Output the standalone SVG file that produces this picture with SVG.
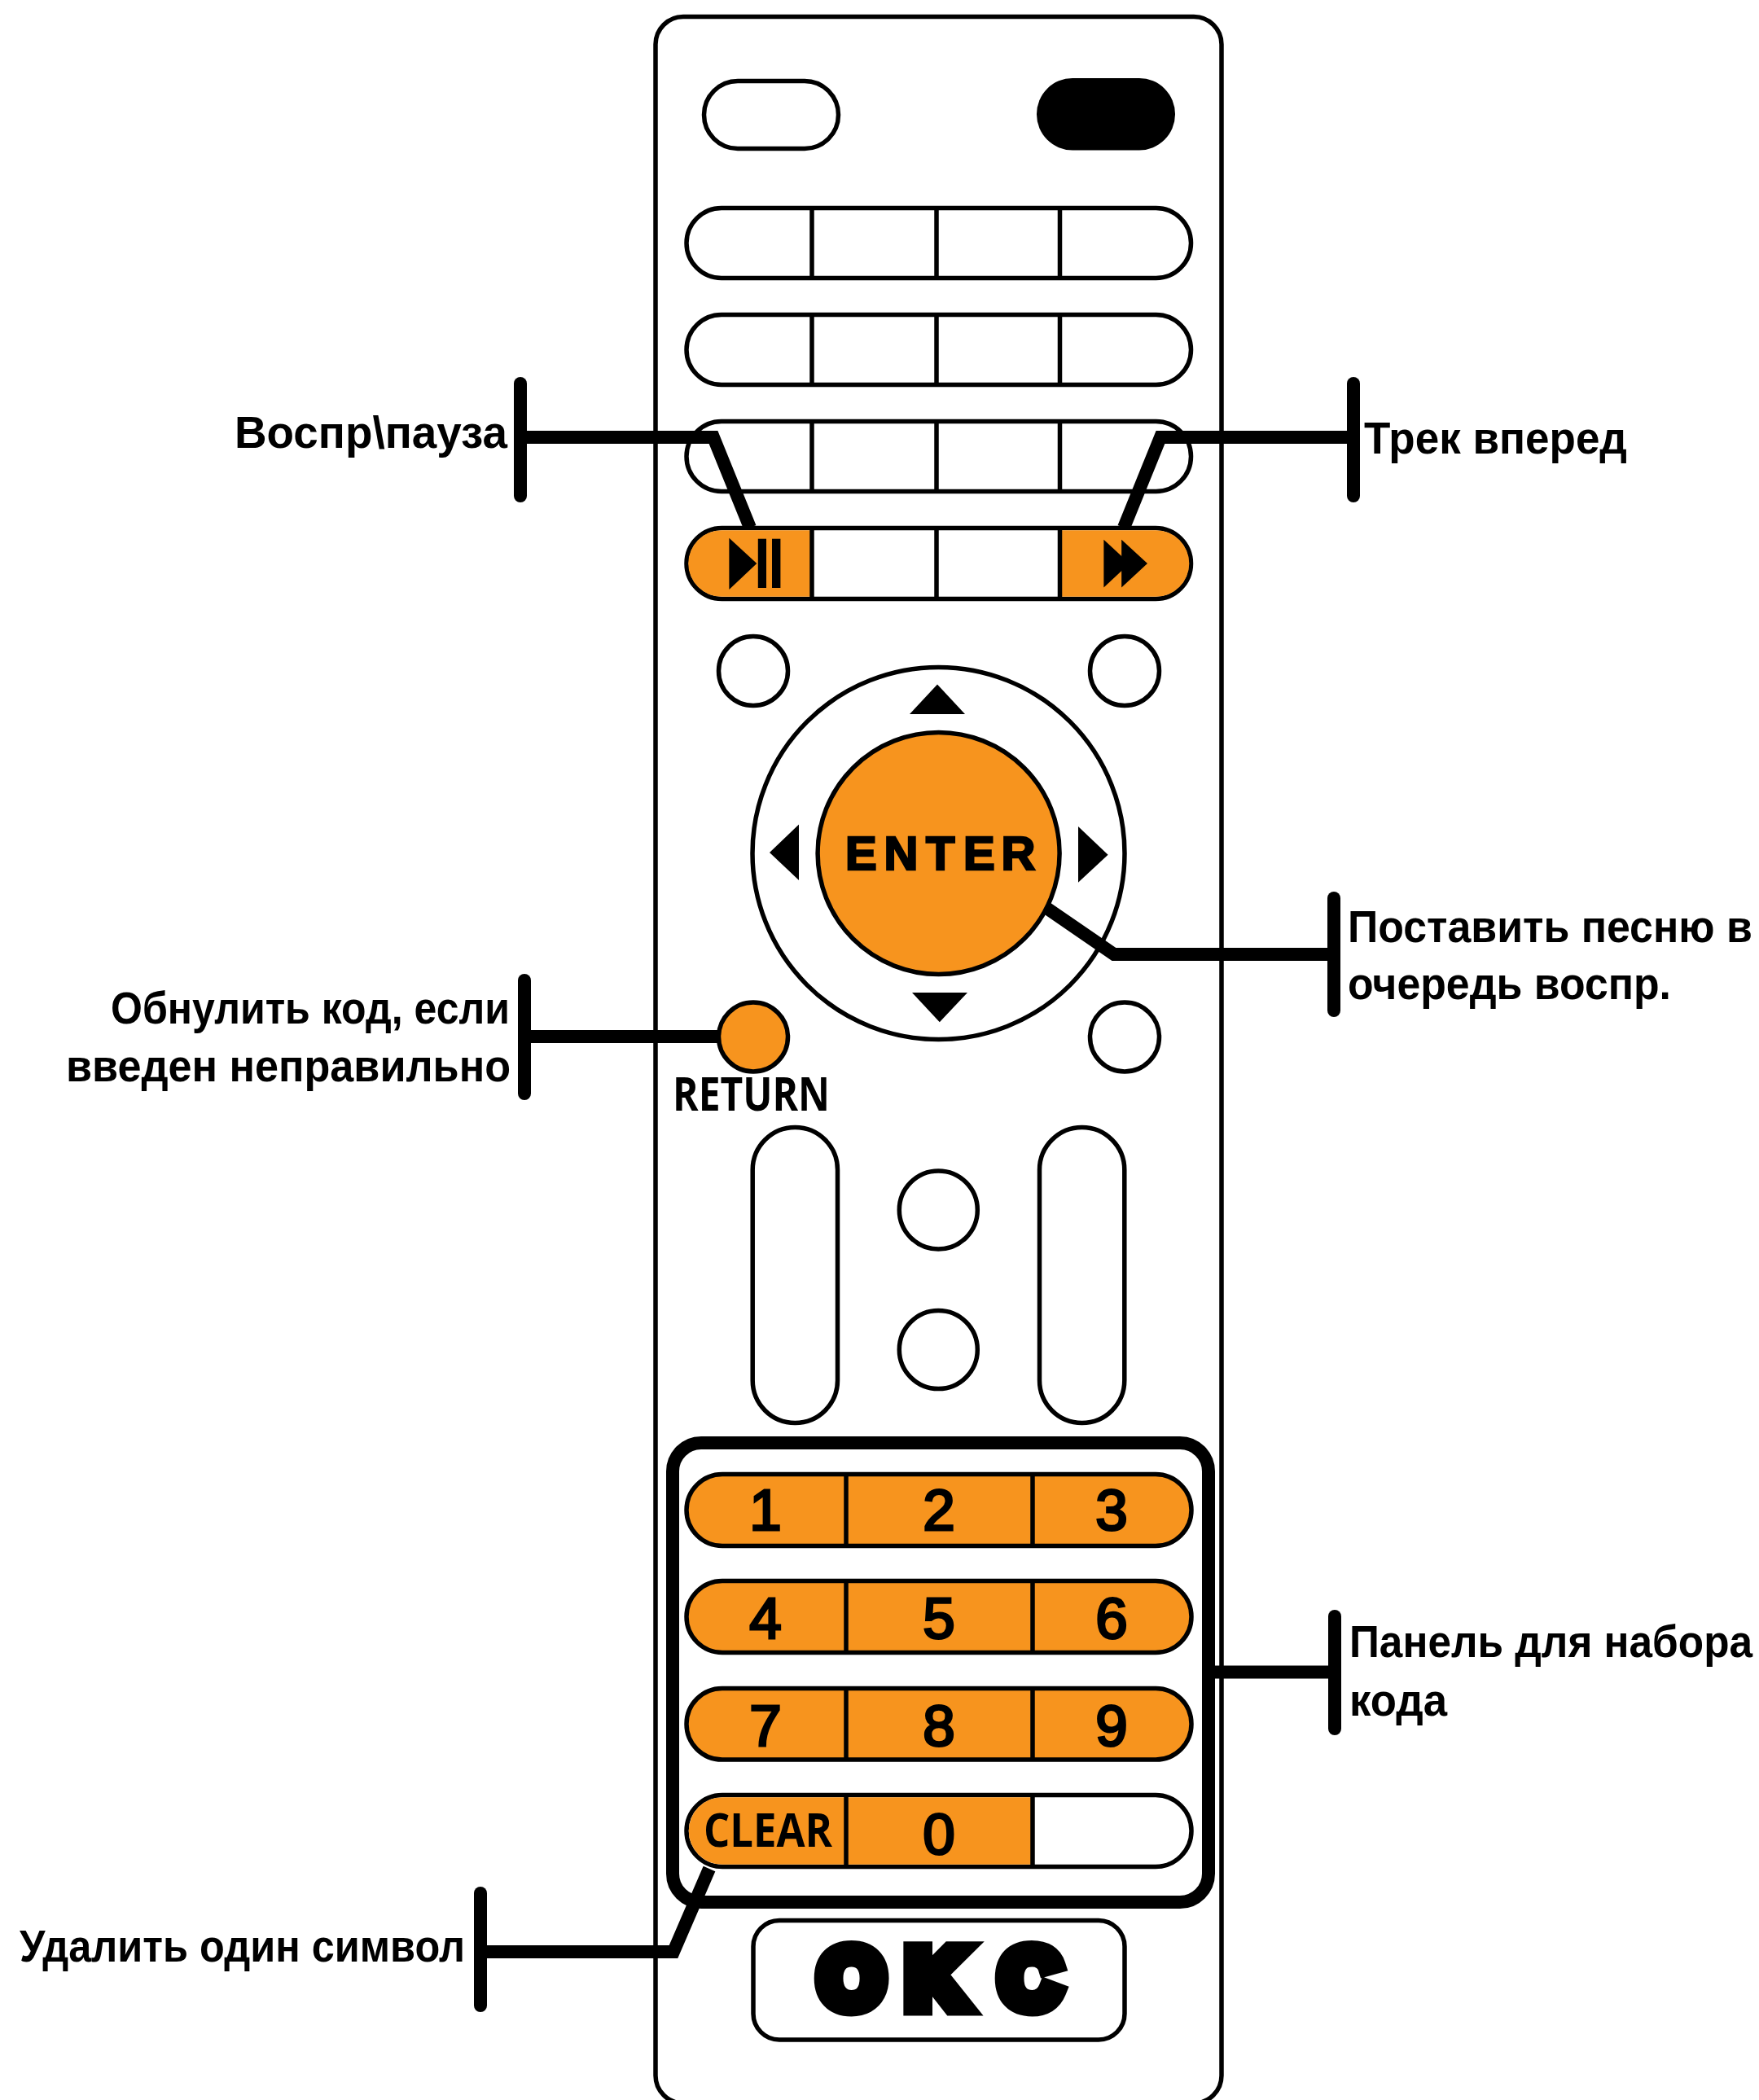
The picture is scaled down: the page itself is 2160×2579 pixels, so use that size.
<svg xmlns="http://www.w3.org/2000/svg" width="2160" height="2579" viewBox="0 0 2160 2579">
<style>
.w{fill:#fff;stroke:#000;stroke-width:5.5}
.f{fill:#F7941E;stroke:#000;stroke-width:5.5}
.or{fill:#F7941E}
.k{fill:#000}
.d{stroke:#000;stroke-width:5.5;fill:none}
.lead{fill:none;stroke:#000;stroke-width:16;stroke-linejoin:miter}
.stem{fill:none;stroke:#000;stroke-width:16;stroke-linecap:round}
.lbl{font-family:"Liberation Sans",Arial,sans-serif;font-size:56px;font-weight:700;fill:#000}
.dig{font-family:"Liberation Sans",Arial,sans-serif;font-size:71px;font-weight:400;fill:#000;stroke:#000;stroke-width:3;text-anchor:middle}
.rem{font-family:"Open Sans",sans-serif;font-size:57px;font-weight:700;fill:#000}
</style>
<rect width="2160" height="2579" fill="#fff"/>
<g id="remote-body"><rect class="w" x="805" y="20.500" width="695" height="2562.500" rx="34"/></g>
<g id="btn-top-left"><rect class="w" x="864.500" y="99.500" width="165" height="83" rx="41.500"/></g>
<g id="btn-top-right"><rect class="k" x="1273" y="96" width="170" height="88.500" rx="44"/></g>
<g id="row-1"><rect class="w" x="843" y="255.500" width="619.500" height="86" rx="43"/><path class="d" d="M997 255.500V341.500M1150 255.500V341.500M1301.500 255.500V341.500"/></g>
<g id="row-2"><rect class="w" x="843" y="386.500" width="619.500" height="86" rx="43"/><path class="d" d="M997 386.500V472.500M1150 386.500V472.500M1301.500 386.500V472.500"/></g>
<g id="row-3"><rect class="w" x="843" y="517.500" width="619.500" height="86" rx="43"/><path class="d" d="M997 517.500V603.500M1150 517.500V603.500M1301.500 517.500V603.500"/></g>
<g id="circle-tl"><circle class="w" cx="925" cy="824" r="42.500"/></g>
<g id="circle-tr"><circle class="w" cx="1381" cy="824" r="42.500"/></g>
<g id="circle-br"><circle class="w" cx="1381" cy="1273.500" r="42.500"/></g>
<g id="dpad"><circle class="w" cx="1152.500" cy="1048" r="228.500"/>
<polygon class="k" points="1151,840.500 1185,877 1117,877"/>
<polygon class="k" points="945,1047 981,1012.500 981,1081"/>
<polygon class="k" points="1360.600,1049.700 1324,1015 1324,1083.700"/>
<polygon class="k" points="1153.800,1255.300 1120,1219 1188,1219"/></g>
<g id="vol-left"><rect class="w" x="924.200" y="1384.500" width="104.300" height="363" rx="52.150"/></g>
<g id="vol-right"><rect class="w" x="1276.500" y="1384.500" width="104.300" height="363" rx="52.150"/></g>
<g id="circle-mid-1"><circle class="w" cx="1152.300" cy="1486" r="48"/></g>
<g id="circle-mid-2"><circle class="w" cx="1152.300" cy="1657.500" r="48"/></g>
<g id="keypad-frame"><rect x="826" y="1772" width="658" height="564" rx="35" fill="none" stroke="#000" stroke-width="16"/></g>
<g id="connectors">
<path class="lead" d="M639 537H876L921 648"/>
<path class="stem" d="M639 471V609"/>
<path class="lead" d="M1662 537H1425L1380 648"/>
<path class="stem" d="M1662 471V609"/>
<path class="lead" d="M1638 1172H1368L1285 1115"/>
<path class="stem" d="M1638 1103V1241"/>
<path class="lead" d="M644 1273H885"/>
<path class="stem" d="M644 1204V1343"/>
<path class="lead" d="M1639 2053.500H1484"/>
<path class="stem" d="M1639 1985V2123"/>
<path class="lead" d="M590 2397H827L871 2295"/>
<path class="stem" d="M590 2325V2463"/>
</g>
<g id="row-4"><rect class="w" x="843" y="648.500" width="619.500" height="87" rx="43.500"/>
<path class="or" d="M997 651.200H886A40.800 40.800 0 0 0 886 732.800H997Z"/><path class="or" d="M1301.500 651.200H1419.500A40.800 40.800 0 0 1 1419.500 732.800H1301.500Z"/>
<path class="d" d="M997 648.500V735.500M1150 648.500V735.500M1301.500 648.500V735.500"/>
<polygon class="k" points="895.400,660.700 929.300,692 895.400,723.900"/>
<rect class="k" x="930.800" y="661.700" width="10.200" height="60.300"/><rect class="k" x="948" y="661.700" width="10.400" height="60.300"/>
<polygon class="k" points="1355.400,662.700 1387,692 1355.400,721.400"/><polygon class="k" points="1377.200,662.700 1409,692 1377.200,721.400"/></g>
<g id="btn-enter"><circle class="f" cx="1152.600" cy="1048" r="148.500"/>
<text font-family="Liberation Sans, sans-serif" font-size="58" font-weight="700" stroke="#000" stroke-width="2.500" x="1038 1085.500 1137 1183 1229.500" y="1068">ENTER</text></g>
<g id="btn-return"><circle class="f" cx="925" cy="1273.500" r="42.500"/>
<text class="rem" x="826" y="1364" textLength="193" lengthAdjust="spacingAndGlyphs">RETURN</text></g>
<g id="keys-1"><rect class="f" x="843" y="1810.500" width="620" height="88" rx="44"/><path class="d" d="M1039 1810.500V1898.500M1268 1810.500V1898.500"/>
<text class="dig" x="940" y="1879">1</text><text class="dig" x="1153" y="1879">2</text><text class="dig" x="1365" y="1879">3</text></g>
<g id="keys-2"><rect class="f" x="843" y="1941.500" width="620" height="88" rx="44"/><path class="d" d="M1039 1941.500V2029.500M1268 1941.500V2029.500"/>
<text class="dig" x="940" y="2011.500">4</text><text class="dig" x="1153" y="2011.500">5</text><text class="dig" x="1365" y="2011.500">6</text></g>
<g id="keys-3"><rect class="f" x="843" y="2073.500" width="620" height="87.500" rx="43.700"/><path class="d" d="M1039 2073.500V2161M1268 2073.500V2161"/>
<text class="dig" x="940" y="2143.500">7</text><text class="dig" x="1153" y="2143.500">8</text><text class="dig" x="1365" y="2143.500">9</text></g>
<g id="keys-4"><rect class="w" x="843" y="2204.500" width="620" height="88" rx="44"/>
<path class="or" d="M1268 2207.200H887A41.300 41.300 0 0 0 887 2289.800H1268Z"/>
<path class="d" d="M1039 2204.500V2292.500M1268 2204.500V2292.500"/>
<text class="rem" x="864" y="2268" textLength="158" lengthAdjust="spacingAndGlyphs">CLEAR</text>
<text class="dig" x="1153" y="2276.500">0</text></g>
<g id="logo"><rect class="w" x="925" y="2358.500" width="456" height="146.500" rx="32"/>
<text font-family="Liberation Sans, sans-serif" font-size="102" font-weight="700" stroke="#000" stroke-width="21" stroke-linejoin="miter" x="1006 1113 1228" y="2465">OKC</text></g>
<g id="labels">
<text class="lbl" x="288" y="550" textLength="335" lengthAdjust="spacingAndGlyphs">Воспр\пауза</text>
<text class="lbl" x="1675" y="557" textLength="323" lengthAdjust="spacingAndGlyphs">Трек вперед</text>
<text class="lbl" transform="translate(1655 1157) scale(.9 1)" textLength="552" lengthAdjust="spacingAndGlyphs">Поставить песню в</text>
<text class="lbl" x="1655" y="1227" textLength="397" lengthAdjust="spacingAndGlyphs">очередь воспр.</text>
<text class="lbl" x="136" y="1257" textLength="490" lengthAdjust="spacingAndGlyphs">Обнулить код, если</text>
<text class="lbl" x="81" y="1328" textLength="546" lengthAdjust="spacingAndGlyphs">введен неправильно</text>
<text class="lbl" transform="translate(1657 2035) scale(.9 1)" textLength="550" lengthAdjust="spacingAndGlyphs">Панель для набора</text>
<text class="lbl" x="1657" y="2107" textLength="120" lengthAdjust="spacingAndGlyphs">кода</text>
<text class="lbl" x="24" y="2409" textLength="547" lengthAdjust="spacingAndGlyphs">Удалить один символ</text>
</g>
</svg>
